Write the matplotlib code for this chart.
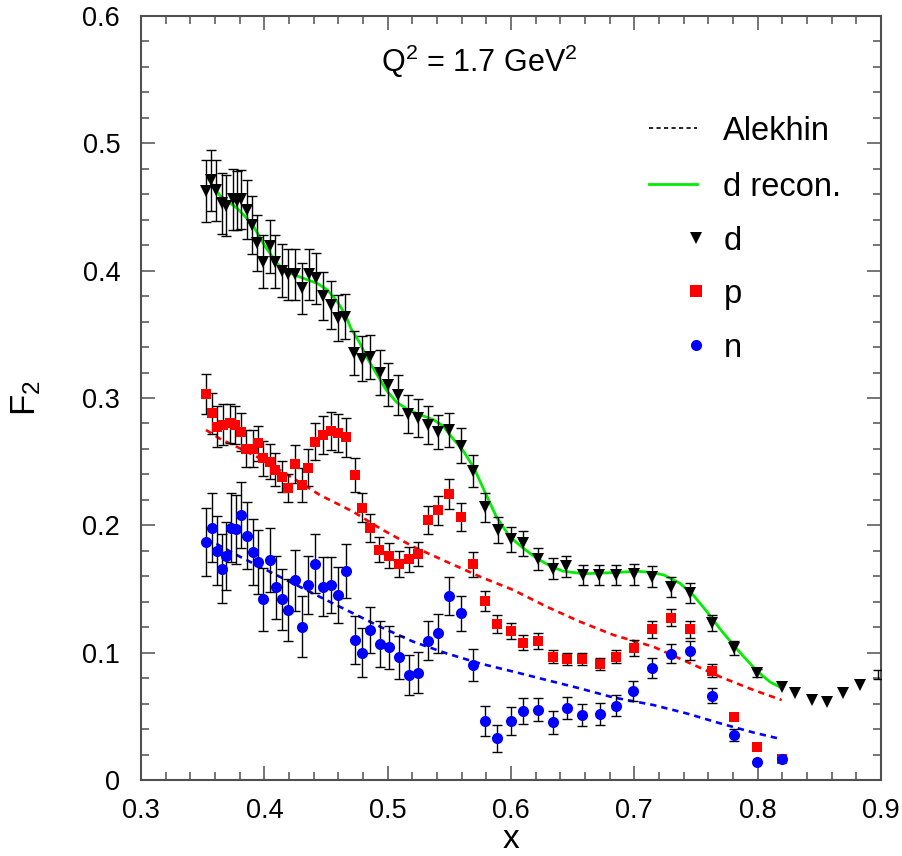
import numpy as np
import matplotlib
matplotlib.use("Agg")
import matplotlib.pyplot as plt
from matplotlib.ticker import MultipleLocator, FuncFormatter

plt.rcParams["font.family"] = ["Liberation Sans", "DejaVu Sans"]
plt.rcParams["mathtext.default"] = "regular"

# deuteron F2 (x, value, error)
d_x = [0.3527, 0.3565, 0.3608, 0.3654, 0.369, 0.3743, 0.378, 0.3808, 0.386, 0.3903,
       0.3943, 0.3992, 0.4046, 0.4087, 0.414, 0.4195, 0.425, 0.4303, 0.4365, 0.4416,
       0.4478, 0.4538, 0.46, 0.4654, 0.473, 0.479, 0.4857, 0.4938, 0.5005, 0.5087,
       0.5168, 0.5243, 0.533, 0.541, 0.5497, 0.5592, 0.569, 0.579, 0.5892, 0.5997,
       0.61, 0.6216, 0.6338, 0.6446, 0.658, 0.6713, 0.6848, 0.6997, 0.714, 0.7295,
       0.7451, 0.7627, 0.7808, 0.7997, 0.8195, 0.8303, 0.8438, 0.856, 0.869, 0.883]
d_y = [0.4626, 0.471, 0.463, 0.453, 0.451, 0.456, 0.455, 0.456, 0.448, 0.436,
       0.422, 0.407, 0.419, 0.407, 0.400, 0.397, 0.397, 0.386, 0.397, 0.394,
       0.380, 0.373, 0.3626, 0.364, 0.3356, 0.331, 0.3323, 0.320, 0.3106, 0.3024,
       0.2874, 0.284, 0.2788, 0.2735, 0.2749, 0.2625, 0.2427, 0.2142, 0.1963, 0.189,
       0.186, 0.1736, 0.166, 0.168, 0.161, 0.161, 0.161, 0.1615, 0.1597, 0.1518,
       0.1466, 0.123, 0.1039, 0.0838, 0.0733, 0.0686, 0.0628, 0.0615, 0.068, 0.0746]
d_err = [0.024, 0.024, 0.024, 0.024, 0.024, 0.024, 0.023, 0.023, 0.023, 0.023,
         0.022, 0.021, 0.021, 0.021, 0.021, 0.020, 0.020, 0.020, 0.020, 0.020,
         0.019, 0.019, 0.018, 0.018, 0.0174, 0.0174, 0.0174, 0.0174, 0.0165, 0.0157,
         0.015, 0.015, 0.0147, 0.0135, 0.0135, 0.0137, 0.0125, 0.0115, 0.0105, 0.0098,
         0.0098, 0.0085, 0.008, 0.0082, 0.008, 0.008, 0.008, 0.008, 0.008, 0.0078,
         0.0078, 0.0063, 0.0055, 0.003, 0, 0, 0, 0, 0, 0]
# last deuteron point: only its error bar sits inside the frame
d_edge_x = [0.8975]
d_edge_y = [0.083]
d_edge_err = [0.0035]

# proton F2
p_x = [0.3527, 0.3573, 0.3614, 0.3667, 0.372, 0.3762, 0.3808, 0.3851, 0.3905, 0.3951,
       0.3992, 0.4046, 0.4087, 0.414, 0.4195, 0.4249, 0.4303, 0.4357, 0.4411, 0.4478,
       0.4538, 0.46, 0.4662, 0.4735, 0.479, 0.4857, 0.493, 0.5013, 0.5094, 0.5176,
       0.5249, 0.533, 0.5411, 0.55, 0.5592, 0.5695, 0.5789, 0.5889, 0.6, 0.61,
       0.6222, 0.6338, 0.6451, 0.6578, 0.6722, 0.6849, 0.7, 0.714, 0.7295, 0.7451,
       0.7627, 0.7808, 0.7997, 0.8195]
p_y = [0.3031, 0.288, 0.2775, 0.279, 0.280, 0.279, 0.273, 0.260, 0.260, 0.2643,
       0.2525, 0.250, 0.2435, 0.2382, 0.229, 0.2482, 0.2317, 0.2453, 0.2658, 0.271,
       0.2743, 0.2722, 0.269, 0.2395, 0.214, 0.1976, 0.181, 0.176, 0.1696, 0.1732,
       0.1775, 0.2042, 0.212, 0.2246, 0.2063, 0.1694, 0.1407, 0.1225, 0.1171, 0.1077,
       0.1093, 0.0968, 0.095, 0.095, 0.0911, 0.0968, 0.1039, 0.1182, 0.1275, 0.1182,
       0.0859, 0.0497, 0.0262, 0.0162]
p_err = [0.016, 0.016, 0.016, 0.016, 0.015, 0.015, 0.015, 0.0145, 0.0145, 0.014,
         0.014, 0.0137, 0.013, 0.012, 0.011, 0.015, 0.0135, 0.0145, 0.0144, 0.015,
         0.015, 0.015, 0.015, 0.0134, 0.0115, 0.011, 0.010, 0.0098, 0.010, 0.010,
         0.0095, 0.0107, 0.0114, 0.012, 0.011, 0.0098, 0.0076, 0.007, 0.0065, 0.006,
         0.0062, 0.0052, 0.005, 0.0048, 0.0046, 0.005, 0.0062, 0.0064, 0.0068, 0.0065,
         0.005, 0, 0, 0]

# neutron F2
n_x = [0.3527, 0.3573, 0.3614, 0.3654, 0.369, 0.373, 0.377, 0.3808, 0.3862, 0.3905,
       0.3946, 0.3992, 0.4046, 0.4092, 0.414, 0.4195, 0.4249, 0.4303, 0.4357, 0.4411,
       0.4478, 0.4538, 0.46, 0.4662, 0.4735, 0.479, 0.4857, 0.4938, 0.5013, 0.5094,
       0.5176, 0.5249, 0.533, 0.5411, 0.55, 0.5592, 0.5695, 0.5789, 0.5889, 0.6,
       0.61, 0.6222, 0.6338, 0.6451, 0.6578, 0.6722, 0.6849, 0.6992, 0.714, 0.7295,
       0.7451, 0.7627, 0.7808, 0.7997, 0.8195]
n_y = [0.187, 0.198, 0.180, 0.166, 0.176, 0.198, 0.197, 0.208, 0.192, 0.179,
       0.1713, 0.1418, 0.1728, 0.1512, 0.1418, 0.1335, 0.157, 0.1204, 0.153, 0.170,
       0.1518, 0.153, 0.1453, 0.1643, 0.110, 0.100, 0.118, 0.107, 0.1041, 0.0962,
       0.0825, 0.0843, 0.1092, 0.1152, 0.1448, 0.1308, 0.0903, 0.0463, 0.0326, 0.0463,
       0.0542, 0.055, 0.0452, 0.0568, 0.051, 0.0516, 0.0584, 0.0699, 0.0881, 0.099,
       0.1016, 0.0663, 0.0353, 0.0144, 0.0162]
n_err = [0.027, 0.027, 0.027, 0.027, 0.027, 0.027, 0.027, 0.026, 0.026, 0.026,
         0.025, 0.025, 0.025, 0.025, 0.024, 0.024, 0.024, 0.024, 0.023, 0.023,
         0.023, 0.022, 0.022, 0.021, 0.019, 0.019, 0.018, 0.018, 0.017, 0.017,
         0.016, 0.016, 0.0153, 0.0155, 0.015, 0.014, 0.0126, 0.012, 0.0106, 0.011,
         0.010, 0.009, 0.0087, 0.0087, 0.0087, 0.0087, 0.008, 0.0076, 0.0079, 0.0075,
         0.0072, 0.006, 0.0045, 0, 0]

# smooth deuteron reconstruction
rec_x = [0.354, 0.364, 0.378, 0.390, 0.400, 0.410, 0.418, 0.429, 0.443, 0.451,
         0.459, 0.466, 0.470, 0.477, 0.483, 0.491, 0.499, 0.507, 0.516, 0.526,
         0.537, 0.545, 0.553, 0.561, 0.570, 0.578, 0.588, 0.599, 0.610, 0.621,
         0.632, 0.642, 0.659, 0.686, 0.702, 0.714, 0.724, 0.737, 0.748, 0.759,
         0.770, 0.783, 0.799, 0.810, 0.820]
rec_y = [0.473, 0.459, 0.449, 0.437, 0.420, 0.406, 0.399, 0.395, 0.390, 0.385,
         0.376, 0.365, 0.355, 0.344, 0.332, 0.319, 0.306, 0.297, 0.291, 0.287,
         0.283, 0.278, 0.268, 0.259, 0.245, 0.228, 0.207, 0.191, 0.182, 0.174,
         0.168, 0.164, 0.162, 0.163, 0.164, 0.163, 0.161, 0.1545, 0.145, 0.132,
         0.118, 0.103, 0.086, 0.077, 0.072]

# Alekhin curves for p and n
alp_x = [0.3527, 0.364, 0.3803, 0.3992, 0.4235, 0.4451, 0.4722, 0.4938, 0.5208, 0.5478,
         0.5749, 0.6019, 0.6289, 0.656, 0.683, 0.7154, 0.7424, 0.7695, 0.7965, 0.8195]
alp_y = [0.2749, 0.268, 0.2604, 0.2513, 0.2369, 0.2238, 0.2106, 0.1976, 0.1832, 0.1714,
         0.1597, 0.1492, 0.1361, 0.1243, 0.1139, 0.1047, 0.0929, 0.0811, 0.0707, 0.0628]
aln_x = [0.3527, 0.3614, 0.3776, 0.3992, 0.4235, 0.4451, 0.4722, 0.4938, 0.5208, 0.5478,
         0.5749, 0.6019, 0.6289, 0.656, 0.683, 0.7154, 0.7424, 0.7695, 0.7965, 0.8195]
aln_y = [0.189, 0.1853, 0.1767, 0.1661, 0.1543, 0.1438, 0.1308, 0.1204, 0.1086, 0.0994,
         0.0915, 0.0851, 0.0785, 0.0719, 0.0648, 0.0589, 0.0523, 0.0445, 0.0373, 0.032]

frame_col = "#505050"
green = "#00ee00"

fig = plt.figure(figsize=(9.02, 8.56), dpi=100)
ax = fig.add_axes([0.1563, 0.0888, 0.8204, 0.8925])


def draw_set(x, y, err, marker, color, ms):
    x, y, err = np.array(x), np.array(y), np.array(err)
    m = err > 0
    ax.errorbar(x[m], y[m], yerr=err[m], fmt="none", ecolor="black",
                elinewidth=1.0, capsize=3.8, capthick=1.0, zorder=3)
    ax.plot(x, y, linestyle="none", marker=marker, color=color, ms=ms,
            markeredgewidth=0, zorder=4)


ax.plot(alp_x, alp_y, color="#ff0000", lw=1.9, dashes=(2.4, 1.9), zorder=2)
ax.plot(aln_x, aln_y, color="#0000ff", lw=1.9, dashes=(2.4, 1.9), zorder=2)
ax.plot(rec_x, rec_y, color=green, lw=2.0, zorder=2)

draw_set(d_x, d_y, d_err, "v", "black", 8.8)
ax.errorbar(d_edge_x, d_edge_y, yerr=d_edge_err, fmt="none", ecolor="black",
            elinewidth=1.0, capsize=3.8, capthick=1.0, zorder=3)
draw_set(p_x, p_y, p_err, "s", "#ff0000", 7.4)
draw_set(n_x, n_y, n_err, "o", "#0000ff", 8.0)

ax.set_xlim(0.3, 0.9)
ax.set_ylim(0, 0.6)
ax.xaxis.set_major_locator(MultipleLocator(0.1))
ax.xaxis.set_minor_locator(MultipleLocator(0.02))
ax.yaxis.set_major_locator(MultipleLocator(0.1))
ax.yaxis.set_minor_locator(MultipleLocator(0.02))
fmt = FuncFormatter(lambda v, pos: f"{v:.1f}" if abs(v) > 1e-9 else "0")
ax.xaxis.set_major_formatter(fmt)
ax.yaxis.set_major_formatter(fmt)
ax.tick_params(which="both", direction="in", top=True, right=True,
               color=frame_col, labelsize=19.5)
ax.tick_params(which="major", length=10, width=1.1)
ax.tick_params(axis="y", which="major", pad=15)
ax.tick_params(axis="x", which="major", pad=13)
ax.tick_params(which="minor", length=5.5, width=1.1)
for s in ax.spines.values():
    s.set_color(frame_col)
    s.set_linewidth(1.5)

ax.set_xlabel("x", fontsize=24, labelpad=0)
ax.set_ylabel("F$_2$", fontsize=25, labelpad=28)

ax.text(0.457, 0.94, "Q$^2$ = 1.7 GeV$^2$", transform=ax.transAxes,
        ha="center", va="center", fontsize=22)

# legend, drawn by hand to keep the marker handles right-aligned
tx = 0.787
ax.plot([0.6865, 0.751], [0.853, 0.853], transform=ax.transAxes, color="black",
        lw=1.2, dashes=(2.5, 2.0), clip_on=False)
ax.plot([0.6865, 0.751], [0.780, 0.780], transform=ax.transAxes, color=green,
        lw=2.0, clip_on=False)
ax.plot([0.75], [0.7094], transform=ax.transAxes, marker="v", color="black",
        ms=8.8, mew=0, linestyle="none")
ax.plot([0.75], [0.6405], transform=ax.transAxes, marker="s", color="#ff0000",
        ms=8, mew=0, linestyle="none")
ax.plot([0.75], [0.5694], transform=ax.transAxes, marker="o", color="#0000ff",
        ms=8, mew=0, linestyle="none")
for ty, lab in zip([0.853, 0.780, 0.7094, 0.6405, 0.5694],
                   ["Alekhin", "d recon.", "d", "p", "n"]):
    ax.text(tx, ty, lab, transform=ax.transAxes, ha="left",
            va="center_baseline", fontsize=23.5)

fig.savefig("out.png", dpi=100)
